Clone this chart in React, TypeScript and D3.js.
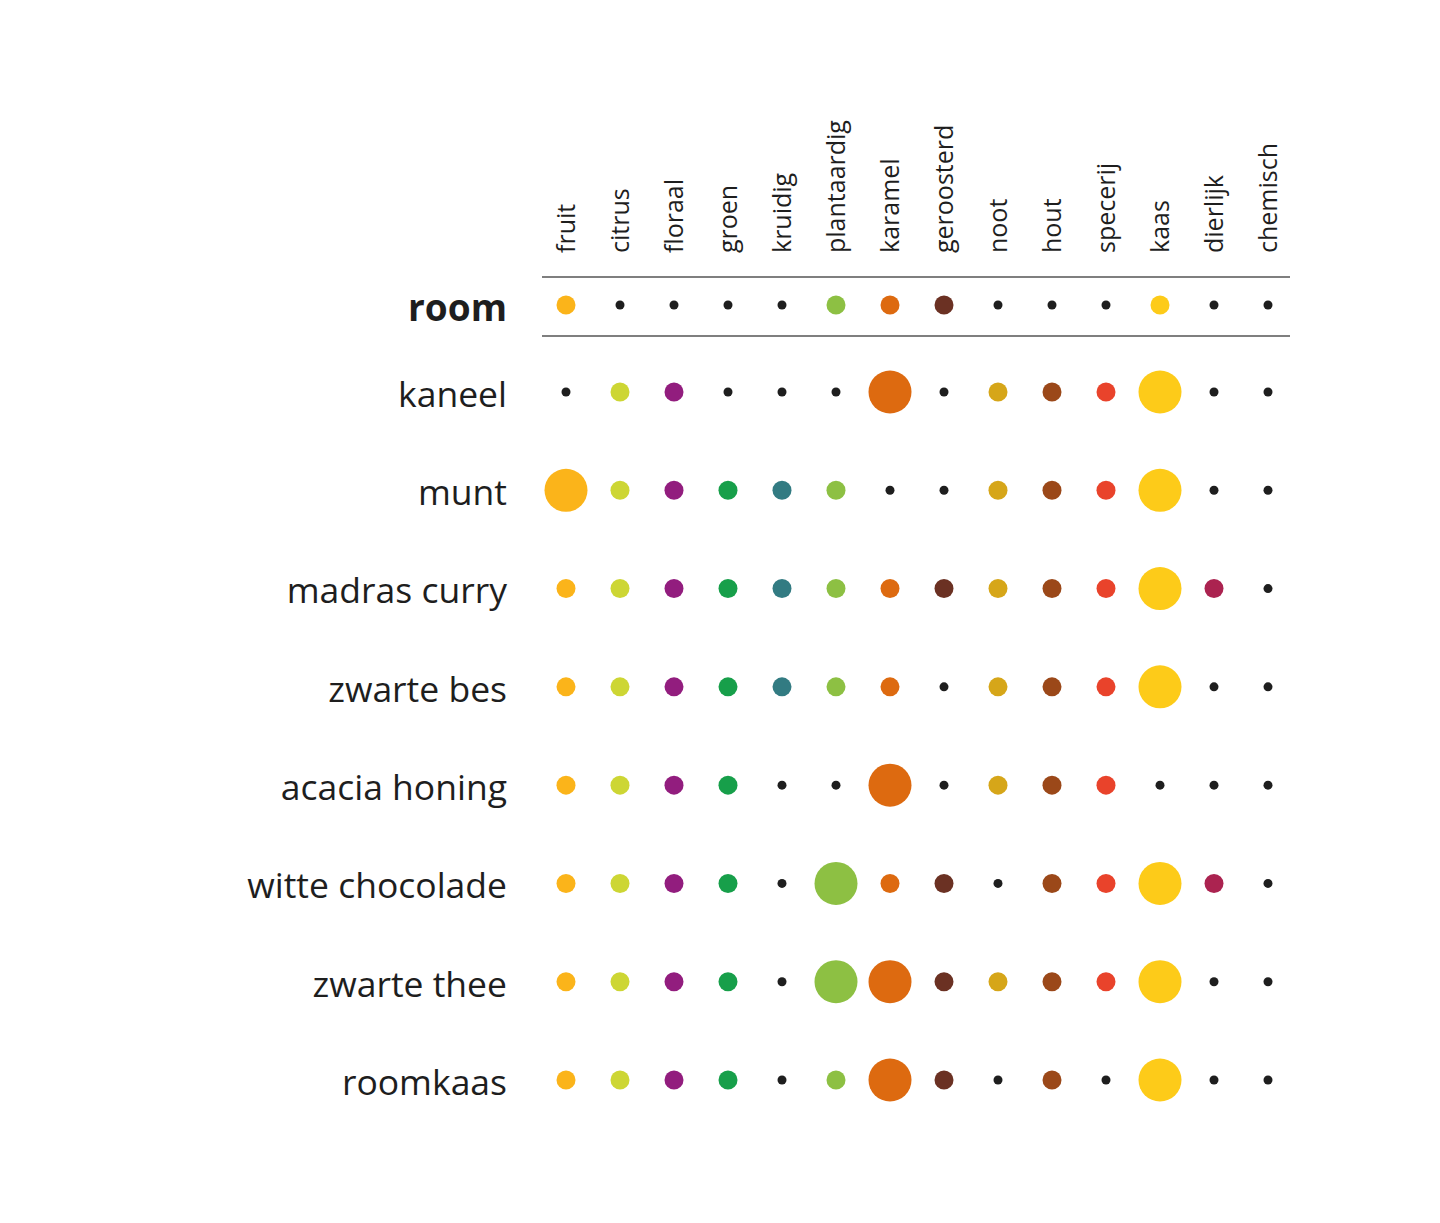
import React from "react";
import * as d3 from "d3";

const aromas = ["fruit", "citrus", "floraal", "groen", "kruidig", "plantaardig", "karamel", "geroosterd", "noot", "hout", "specerij", "kaas", "dierlijk", "chemisch"];
const aromaColors = ["#FBB41A", "#CDD634", "#921D7E", "#179F4A", "#327B82", "#8DC043", "#DD6A10", "#6B3123", "#D6A619", "#9B4819", "#E9432B", "#FDCB19", "#AB2350", "#1e1e1e"];

const headerRow = "room";
const headerValues = [1, 0, 0, 0, 0, 1, 1, 1, 0, 0, 0, 1, 0, 0];

const pairings = ["kaneel", "munt", "madras curry", "zwarte bes", "acacia honing", "witte chocolade", "zwarte thee", "roomkaas"];
const kaneel = [0, 1, 1, 0, 0, 0, 2, 0, 1, 1, 1, 2, 0, 0];
const munt = [2, 1, 1, 1, 1, 1, 0, 0, 1, 1, 1, 2, 0, 0];
const madrasCurry = [1, 1, 1, 1, 1, 1, 1, 1, 1, 1, 1, 2, 1, 0];
const zwarteBes = [1, 1, 1, 1, 1, 1, 1, 0, 1, 1, 1, 2, 0, 0];
const acaciaHoning = [1, 1, 1, 1, 0, 0, 2, 0, 1, 1, 1, 0, 0, 0];
const witteChocolade = [1, 1, 1, 1, 0, 2, 1, 1, 0, 1, 1, 2, 1, 0];
const zwarteThee = [1, 1, 1, 1, 0, 2, 2, 1, 1, 1, 1, 2, 0, 0];
const roomkaas = [1, 1, 1, 1, 0, 1, 2, 1, 0, 1, 0, 2, 0, 0];
const pairingValues = [kaneel, munt, madrasCurry, zwarteBes, acaciaHoning, witteChocolade, zwarteThee, roomkaas];

const FONT = "'Open Sans', 'Noto Sans', sans-serif";
const TEXT = "#1e1e1e";

export default function App() {
  const width = 1440;
  const height = 1223;

  const x = d3.scalePoint<string>().domain(aromas).range([566, 1268]);
  const yHeader = 305;
  const y = d3.scalePoint<string>().domain(pairings).range([392, 1080]);
  const r = d3.scaleOrdinal<number, number>().domain([0, 1, 2]).range([4.5, 9.5, 21.5]);
  const color = (i: number, v: number) => (v === 0 ? TEXT : aromaColors[i]);

  const lineX0 = 542;
  const lineX1 = 1290;
  const labelX = 507;

  const renderRow = (vals: number[], cy: number, key: string) =>
    vals.map((v, i) => (
      <circle key={key + i} cx={x(aromas[i])} cy={cy} r={r(v)} fill={color(i, v)} />
    ));

  return (
    <svg width={width} height={height} style={{ display: "block", position: "absolute", left: 0, top: 0 }} fontFamily={FONT}>
      <rect width={width} height={height} fill="#fff" />
      {aromas.map((a) => (
        <text
          key={"l" + a}
          transform={`translate(${x(a)},253) rotate(-90)`}
          textAnchor="start"
          dy="0.36em"
          fontSize={25}
          fill={TEXT}
        >
          {a}
        </text>
      ))}
      <line x1={lineX0} x2={lineX1} y1={277} y2={277} stroke="#555" strokeWidth={1.5} />
      <line x1={lineX0} x2={lineX1} y1={336} y2={336} stroke="#555" strokeWidth={1.5} />
      <text x={labelX} y={yHeader} dy="0.42em" textAnchor="end" fontSize={37} fontWeight="bold" fill={TEXT}>
        {headerRow}
      </text>
      {renderRow(headerValues, yHeader, "h")}
      {pairings.map((p, j) => (
        <g key={p}>
          <text x={labelX} y={y(p)} dy="0.42em" textAnchor="end" fontSize={35.5} fill={TEXT}>
            {p}
          </text>
          {renderRow(pairingValues[j], y(p) as number, p)}
        </g>
      ))}
    </svg>
  );
}
